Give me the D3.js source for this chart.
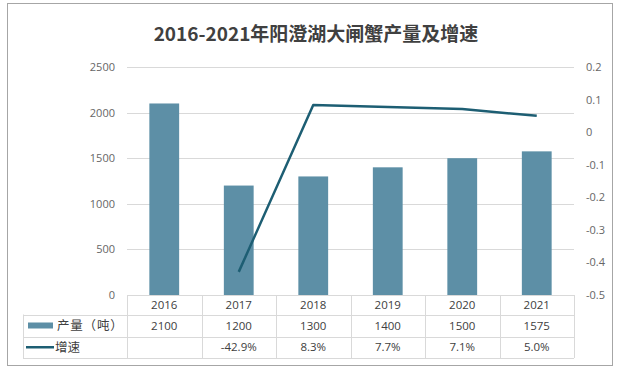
<!DOCTYPE html>
<html>
<head>
<meta charset="utf-8">
<script src="https://cdn.jsdelivr.net/npm/d3@7"></script>
<style>
    body { margin: 0; background: #fff; }
    text { font-family: "Open Sans", "Noto Sans CJK SC", sans-serif; }
</style>
</head>
<body>
<div id="vis"></div>
<script>
var years = ['2016', '2017', '2018', '2019', '2020', '2021'];
var output = [2100, 1200, 1300, 1400, 1500, 1575];
var growth = [null, -0.429, 0.083, 0.077, 0.071, 0.050];
var growthLabels = ['', '-42.9%', '8.3%', '7.7%', '7.1%', '5.0%'];
var leftTicks = [0, 500, 1000, 1500, 2000, 2500];
var rightTicks = [-0.5, -0.4, -0.3, -0.2, -0.1, 0, 0.1, 0.2];

var width = 621,
    height = 375;

var plot = { left: 127, right: 574, top: 67, bottom: 295 };
var rows = [295, 314.5, 336.5, 358];

var barColour = '#5d8fa6',
    lineColour = '#1d5e73',
    gridColour = '#d9d9d9',
    tickColour = '#666666';

var svg = d3.select('#vis')
    .append('svg')
    .attr('width', width)
    .attr('height', height);

// outer frame
svg.append('rect')
    .attr('x', 7.5)
    .attr('y', 3.5)
    .attr('width', 605)
    .attr('height', 362)
    .attr('fill', '#fff')
    .attr('stroke', '#a6a6a6');

svg.append('text')
    .attr('x', 316)
    .attr('y', 41)
    .attr('text-anchor', 'middle')
    .attr('font-size', 19)
    .attr('font-weight', 'bold')
    .attr('fill', '#404040')
    .style('font-family', '"Noto Sans CJK SC", sans-serif')
    .text('2016-2021年阳澄湖大闸蟹产量及增速');

var x_scale = d3.scaleBand()
    .domain(years)
    .range([plot.left, plot.right]);

var y_left = d3.scaleLinear()
    .domain([0, 2500])
    .range([plot.bottom, plot.top]);

var y_right = d3.scaleLinear()
    .domain([-0.5, 0.2])
    .range([plot.bottom, plot.top]);

// gridlines
svg.append('g')
    .selectAll('line')
    .data(leftTicks.filter(function (d) { return d > 0; }))
    .enter()
    .append('line')
    .attr('x1', plot.left)
    .attr('x2', plot.right)
    .attr('y1', function (d) { return Math.round(y_left(d)) + 0.5; })
    .attr('y2', function (d) { return Math.round(y_left(d)) + 0.5; })
    .attr('stroke', gridColour);

// left axis
var y_axis = d3.axisLeft(y_left)
    .tickValues(leftTicks)
    .tickSize(0)
    .tickPadding(0)
    .tickFormat(d3.format('d'));

svg.append('g')
    .attr('class', 'y axis')
    .attr('transform', 'translate(115,0)')
    .call(y_axis)
    .call(function (g) { g.select('.domain').remove(); })
    .selectAll('text')
    .attr('fill', tickColour)
    .attr('font-size', 11)
    .style('font-family', '"Open Sans", sans-serif');

// right axis
var y_axis_r = d3.axisRight(y_right)
    .tickValues(rightTicks)
    .tickSize(0)
    .tickPadding(0)
    .tickFormat(function (d) {
        if (Math.abs(d) < 1e-9) return '0';
        return (d < 0 ? '-' : '') + Math.abs(d).toFixed(1);
    });

svg.append('g')
    .attr('class', 'y2 axis')
    .attr('transform', 'translate(586,0)')
    .call(y_axis_r)
    .call(function (g) { g.select('.domain').remove(); })
    .selectAll('text')
    .attr('fill', tickColour)
    .attr('font-size', 11)
    .style('font-family', '"Open Sans", sans-serif');

// bars
var barW = x_scale.bandwidth() * 0.4;
svg.append('g')
    .selectAll('.bar')
    .data(output)
    .enter()
    .append('rect')
    .attr('class', 'bar')
    .attr('x', function (d, i) { return x_scale(years[i]) + (x_scale.bandwidth() - barW) / 2; })
    .attr('width', barW)
    .attr('y', function (d) { return y_left(d); })
    .attr('height', function (d) { return plot.bottom - y_left(d); })
    .attr('fill', barColour);

// growth line
var line = d3.line()
    .defined(function (d) { return d !== null; })
    .x(function (d, i) { return x_scale(years[i]) + x_scale.bandwidth() / 2; })
    .y(function (d) { return y_right(d); });

svg.append('path')
    .datum(growth)
    .attr('d', line)
    .attr('fill', 'none')
    .attr('stroke', lineColour)
    .attr('stroke-width', 2.5)
    .attr('stroke-linejoin', 'round');

// data table
var table = svg.append('g').attr('class', 'table');
var tableLeft = 23;

// horizontal lines
table.append('line')
    .attr('x1', plot.left).attr('x2', plot.right)
    .attr('y1', rows[0] + 0.5).attr('y2', rows[0] + 0.5)
    .attr('stroke', gridColour);
table.selectAll('.hline')
    .data(rows.slice(1))
    .enter()
    .append('line')
    .attr('class', 'hline')
    .attr('x1', tableLeft).attr('x2', plot.right)
    .attr('y1', function (d) { return Math.round(d) + 0.5; })
    .attr('y2', function (d) { return Math.round(d) + 0.5; })
    .attr('stroke', gridColour);

// vertical lines
var edges = years.map(function (y) { return x_scale(y); }).concat([plot.right]);
table.selectAll('.vline')
    .data(edges)
    .enter()
    .append('line')
    .attr('class', 'vline')
    .attr('x1', function (d) { return Math.round(d) + 0.5; })
    .attr('x2', function (d) { return Math.round(d) + 0.5; })
    .attr('y1', rows[0])
    .attr('y2', rows[3])
    .attr('stroke', gridColour);
table.append('line')
    .attr('x1', tableLeft + 0.5).attr('x2', tableLeft + 0.5)
    .attr('y1', rows[1]).attr('y2', rows[3])
    .attr('stroke', gridColour);

function rowText(values, r) {
    table.selectAll('.row' + r)
        .data(values)
        .enter()
        .append('text')
        .attr('class', 'row' + r)
        .attr('x', function (d, i) { return x_scale(years[i]) + x_scale.bandwidth() / 2; })
        .attr('y', (rows[r] + rows[r + 1]) / 2)
        .attr('dy', '0.35em')
        .attr('text-anchor', 'middle')
        .attr('font-size', 11.5)
        .attr('fill', '#404040')
        .text(function (d) { return d; });
}
rowText(years, 0);
rowText(output, 1);
rowText(growthLabels, 2);

// legend keys
table.append('rect')
    .attr('x', 28)
    .attr('y', (rows[1] + rows[2]) / 2 - 3)
    .attr('width', 25)
    .attr('height', 6)
    .attr('fill', barColour);
table.append('text')
    .attr('x', 57)
    .attr('y', (rows[1] + rows[2]) / 2)
    .attr('dy', '0.35em')
    .attr('font-size', 12.5)
    .attr('letter-spacing', 0.8)
    .attr('fill', '#404040')
    .style('font-family', '"Noto Sans CJK SC", sans-serif')
    .text('产量（吨）');

table.append('line')
    .attr('x1', 26).attr('x2', 54)
    .attr('y1', (rows[2] + rows[3]) / 2)
    .attr('y2', (rows[2] + rows[3]) / 2)
    .attr('stroke', lineColour)
    .attr('stroke-width', 2.5);
table.append('text')
    .attr('x', 55)
    .attr('y', (rows[2] + rows[3]) / 2)
    .attr('dy', '0.35em')
    .attr('font-size', 12.5)
    .attr('fill', '#404040')
    .style('font-family', '"Noto Sans CJK SC", sans-serif')
    .text('增速');
</script>
</body>
</html>
